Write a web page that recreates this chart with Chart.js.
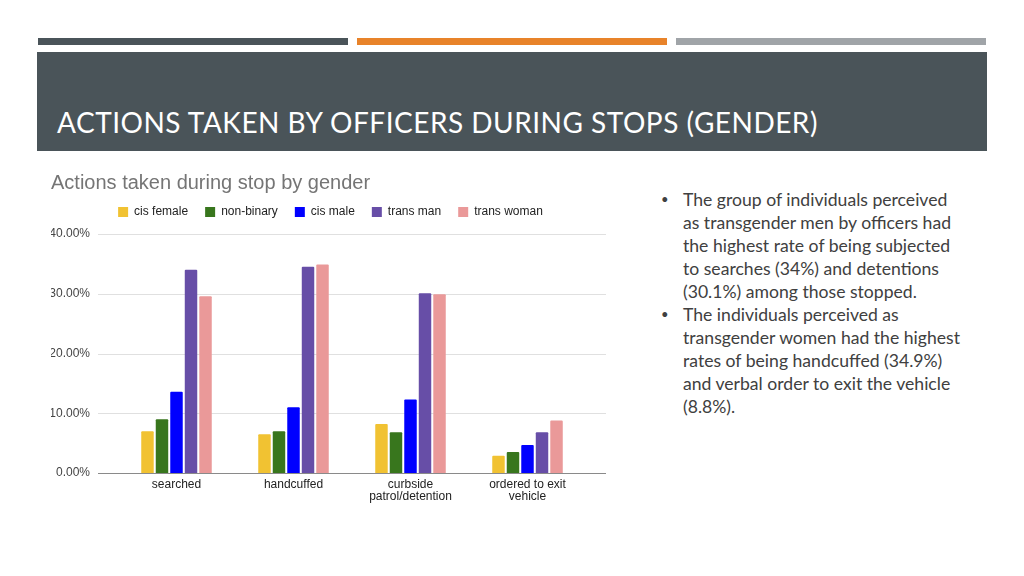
<!DOCTYPE html>
<html>
<head>
<meta charset="utf-8">
<script src="https://cdn.jsdelivr.net/npm/chart.js@4.4.0/dist/chart.umd.min.js"></script>
<style>
  body { margin: 0; width: 1024px; height: 576px; background: #fff; position: relative; overflow: hidden; }
  .strip { position: absolute; top: 38px; height: 7px; }
  #header { position: absolute; left: 37px; top: 52px; width: 950px; height: 99px; background: #4a5459; }
  #header h1 { position: absolute; left: 20px; top: 53px; margin: 0; font-family: Lato, sans-serif; font-weight: 400;
    font-size: 28px; color: #fff; white-space: nowrap; letter-spacing: 0.5px; }
  #wrap { position: absolute; left: 40px; top: 150px; width: 580px; height: 363px; }
  #notes { position: absolute; left: 662px; top: 188px; width: 340px; font-family: Lato, sans-serif; font-size: 17.6px;
    line-height: 23px; color: #404040; }
  #notes div { position: relative; padding-left: 21px; }
  #notes div span.b { position: absolute; left: -1px; top: 0; font-size: 13px; }
</style>
</head>
<body>
<div class="strip" style="left:38px;width:310px;background:#4a5459"></div>
<div class="strip" style="left:357px;width:310px;background:#e8832a"></div>
<div class="strip" style="left:676px;width:310px;background:#a0a4a8"></div>
<div id="header"><h1>ACTIONS TAKEN BY OFFICERS DURING STOPS (GENDER)</h1></div>
<div id="wrap"><canvas id="chart"></canvas></div>
<div id="notes">
  <div><span class="b">•</span>The group of individuals perceived<br>as transgender men by officers had<br>the highest rate of being subjected<br>to searches (34%) and detentions<br>(30.1%) among those stopped.</div>
  <div><span class="b">•</span>The individuals perceived as<br>transgender women had the highest<br>rates of being handcuffed (34.9%)<br>and verbal order to exit the vehicle<br>(8.8%).</div>
</div>
<script>
var categories = [["searched"], ["handcuffed"], ["curbside", "patrol/detention"], ["ordered to exit", "vehicle"]];
var seriesNames = ["cis female", "non-binary", "cis male", "trans man", "trans woman"];
var cisFemale = [7.0, 6.5, 8.2, 2.9];
var nonBinary = [9.0, 7.0, 6.8, 3.5];
var cisMale = [13.6, 11.0, 12.3, 4.7];
var transMan = [34.0, 34.5, 30.1, 6.8];
var transWoman = [29.6, 34.9, 29.9, 8.8];
var yTicks = [0, 10, 20, 30, 40];
var colors = ["#f1c232", "#38761d", "#0000ff", "#674ea7", "#ea9999"];

var values = [cisFemale, nonBinary, cisMale, transMan, transWoman];
var datasets = seriesNames.map(function(name, i) {
  return {
    label: name,
    data: values[i],
    backgroundColor: colors[i],
    borderRadius: 1,
    borderSkipped: 'bottom',
    barPercentage: 0.86,
    categoryPercentage: 0.62
  };
});

// gridlines run 20px past the categories on both sides, like the sheets chart
var gridPlugin = {
  id: 'grid',
  afterInit: function(chart) {
    // a bit more room under the legend
    var lg = chart.legend, fit = lg.fit;
    lg.fit = function() { fit.call(this); this.height += 6; };
  },
  afterLayout: function(chart) {
    chart.legend.left += 12;
    chart.legend.right += 12;
  },
  beforeDatasetsDraw: function(chart) {
    var ctx = chart.ctx, y = chart.scales.y, a = chart.chartArea;
    ctx.save();
    ctx.lineWidth = 1;
    ctx.strokeStyle = '#e0e0e0';
    yTicks.forEach(function(t) {
      if (t === 0) return;
      var py = Math.round(y.getPixelForValue(t)) + 0.5;
      ctx.beginPath(); ctx.moveTo(a.left - 20, py); ctx.lineTo(a.right + 20, py); ctx.stroke();
    });
    ctx.restore();
  },
  afterDatasetsDraw: function(chart) {
    var ctx = chart.ctx, y = chart.scales.y, a = chart.chartArea;
    var py = Math.round(y.getPixelForValue(0)) + 0.5;
    ctx.save();
    ctx.strokeStyle = '#8a8a8a';
    ctx.lineWidth = 1;
    ctx.beginPath(); ctx.moveTo(a.left - 20, py); ctx.lineTo(a.right + 20, py); ctx.stroke();
    ctx.restore();
  }
};

new Chart(document.getElementById('chart'), {
  type: 'bar',
  data: { labels: categories, datasets: datasets },
  plugins: [gridPlugin],
  options: {
    responsive: true,
    maintainAspectRatio: false,
    animation: false,
    layout: { padding: { left: 11, right: 34, top: 0, bottom: 0 } },
    plugins: {
      title: {
        display: true,
        text: 'Actions taken during stop by gender',
        align: 'start',
        color: '#757575',
        font: { family: 'Liberation Sans, Arial', size: 20, weight: 'normal' },
        padding: { top: 21, bottom: -6 }
      },
      legend: {
        position: 'top',
        labels: {
          boxWidth: 10,
          boxHeight: 10,
          padding: 17,
          color: '#222',
          font: { family: 'Liberation Sans, Arial', size: 12 },
          generateLabels: function(chart) {
            return Chart.defaults.plugins.legend.labels.generateLabels(chart).map(function(l) {
              l.lineWidth = 0;
              return l;
            });
          }
        }
      },
      tooltip: { enabled: false }
    },
    scales: {
      x: {
        grid: { display: false, drawTicks: false },
        border: { display: false },
        ticks: { color: '#222', padding: 6, maxRotation: 0, autoSkip: false,
          font: { family: 'Liberation Sans, Arial', size: 12, lineHeight: 1.0 } },
        afterFit: function(s) { s.height = 40; }
      },
      y: {
        min: 0,
        max: 40,
        grid: { display: false, drawTicks: false },
        border: { display: false },
        ticks: {
          stepSize: 10,
          padding: 28,
          color: '#444',
          font: { family: 'Liberation Sans, Arial', size: 12 },
          callback: function(v) { return v.toFixed(2) + '%'; }
        },
        afterFit: function(s) { s.width = 67; }
      }
    }
  }
});
</script>
</body>
</html>
